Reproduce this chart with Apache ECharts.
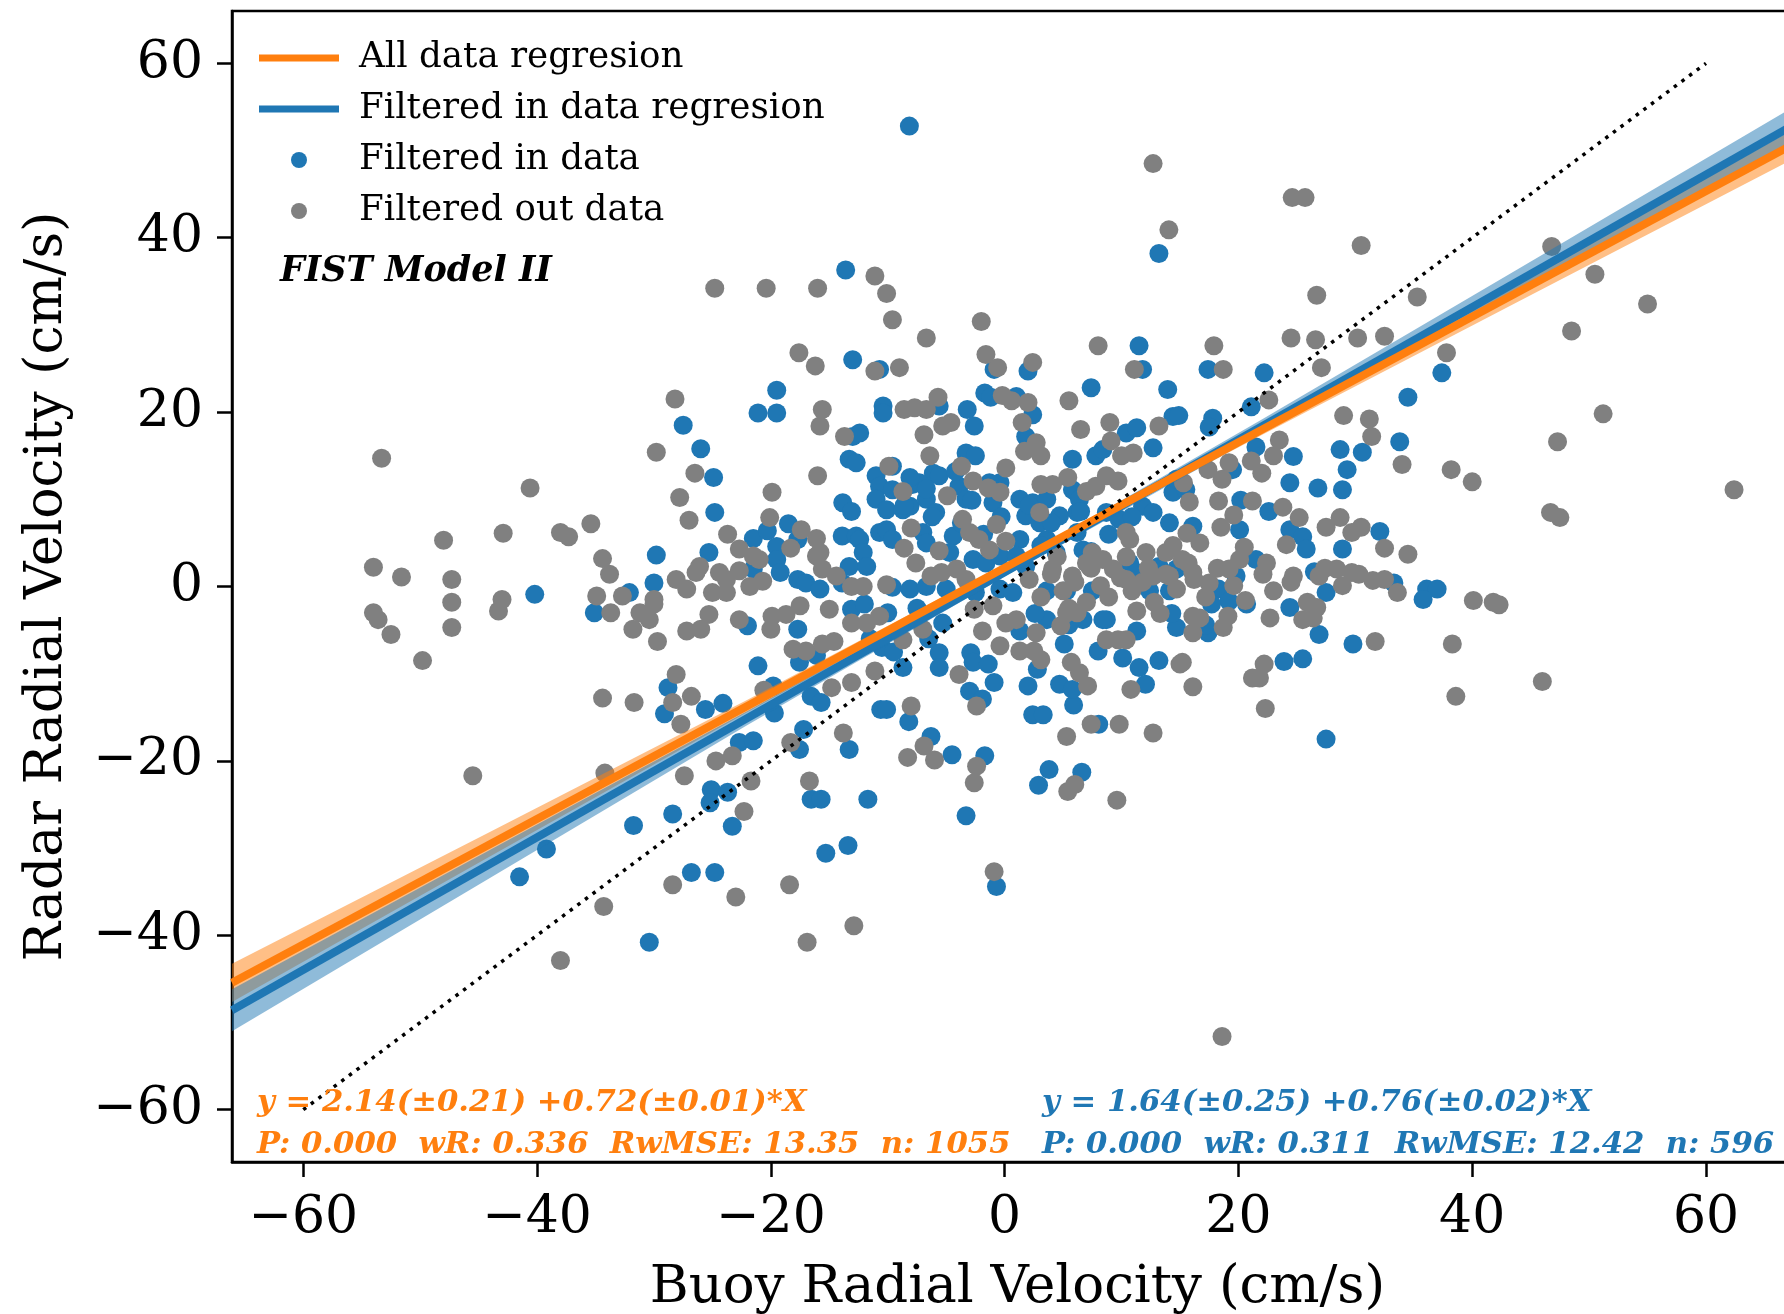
<!DOCTYPE html>
<html><head><meta charset="utf-8">
<script src="https://cdn.jsdelivr.net/npm/echarts@6/dist/echarts.min.js"></script>
<style>html,body{margin:0;padding:0;background:#fff}#c{width:1784px;height:1314px}</style>
</head><body><div id="c"></div>
<script>
// ---------------- DATA ----------------
const xTicks = [-60, -40, -20, 0, 20, 40, 60];
const yTicks = [-60, -40, -20, 0, 20, 40, 60];
const xRange = [-66.1, 68.3];
const yRange = [-66, 66];

const allLine = [[-66.1, -45.45], [68.3, 51.32]];
const filtLine = [[-66.1, -48.6], [68.3, 53.55]];
const oneToOne = [[-60, -60], [60, 60]];

// confidence bands
const bandX = [-66.1, -44, -22, 0, 22, 44, 68.3];
const allLo = [-47.65, -30.94, -14.4, 1.74, 17.38, 32.72, 49.62];
const allHi = [-43.25, -28.14, -13.0, 2.54, 18.58, 34.92, 53.02];
const filtLo = [-51.0, -33.4, -15.88, 1.14, 17.56, 33.68, 51.45];
const filtHi = [-46.2, -30.2, -14.28, 2.14, 19.16, 36.48, 55.65];

// Filtered in data (blue)
const filteredIn = [
[-40.2,-0.9],[-41.5,-33.3],[-30.4,-40.8],[-8.15,52.8],[13.2,38.2],[-13.6,36.3],
[-13.0,26.0],[-19.5,22.5],[-21.1,19.9],[-19.5,19.9],[-27.5,18.5],[-26.0,15.8],[-24.9,12.5],[-24.8,8.5],[-29.8,3.6],[-30.0,0.4],[-25.3,3.9],[-21.5,5.5],[-20.3,6.4],[-18.5,7.2],[-19.5,4.6],[-19.5,3.1],[-19.2,1.6],[-17.7,5.4],[-17.7,0.8],[-17.0,0.4],[-21.5,2.0],[-32.1,-0.7],[-13.0,17.2],[-13.3,14.6],[-12.7,14.2],[-13.85,9.6],[-13.1,8.6],[-13.9,5.8],[-12.7,5.8],[-13.3,2.3],[-13.9,0.4],[-15.8,-0.3],
[-35.1,-3.0],[-22.0,-4.5],[-17.7,-4.9],[-13.1,-2.6],[-21.1,-9.1],[-17.55,-8.7],[-16.1,-7.9],[-28.8,-11.6],[-29.1,-14.6],[-25.6,-14.1],[-24.1,-13.4],[-19.8,-11.4],[-19.7,-14.5],[-16.55,-12.6],[-15.7,-13.3],[-17.2,-16.4],[-22.7,-17.9],[-21.5,-17.7],[-17.55,-18.7],[-13.3,-18.7],[-25.1,-23.3],[-23.7,-23.6],[-25.2,-24.8],[-28.4,-26.1],[-31.75,-27.4],[-23.3,-27.5],[-16.55,-24.4],[-15.7,-24.4],[-39.2,-30.1],[-26.8,-32.8],[-24.8,-32.8],[-15.3,-30.6],[-13.4,-29.7],
[11.5,27.6],[11.8,24.9],[7.4,22.8],[13.95,22.6],[-0.9,24.9],[2.0,24.7],[-10.7,24.9],[-10.4,20.7],[-10.4,19.9],[-12.4,17.6],[-1.7,22.2],[-1.2,21.7],[-3.2,20.3],[-2.6,18.4],[1.0,21.8],[2.4,19.7],[1.8,17.2],[-5.6,20.7],[5.8,14.6],[7.8,15.0],[8.4,15.7],[10.4,17.6],[11.3,18.2],[12.7,15.9],[14.4,19.5],[-3.3,15.3],[-2.5,15.0],[-6.1,13.0],[-5.6,12.7],[-11.0,12.7],[-10.7,11.5],[-9.6,11.1],[-7.9,11.7],[-7.3,11.9],[-11.0,10.0],[-10.1,8.8],[-8.7,8.8],[-8.1,9.2],[-6.7,10.0],[-5.9,8.5],[-3.9,11.5],[-3.3,10.0],[-0.4,11.9],[-1.0,9.6],[1.3,10.0],[2.4,9.6],[3.6,10.0],[5.8,11.1],[6.4,10.0],[1.8,8.1],[3.0,7.3],[4.7,8.1],[6.2,8.5],[8.7,8.5],[9.8,7.7],[11.8,9.2],[12.7,8.5],[14.1,7.3],[14.4,10.8],[14.7,12.3],[-10.7,6.2],[-10.1,6.5],[-9.6,5.4],[-12.4,5.4],[-12.1,3.9],[-11.8,2.3],[-7.0,6.2],[-6.7,5.0],[-4.4,5.8],[-4.7,3.9],[-2.7,3.1],[-1.6,2.7],[-0.4,3.5],[1.3,5.4],[1.0,3.5],[1.8,2.3],[3.6,5.4],[4.4,3.9],[6.2,6.2],[6.7,4.2],[10.7,2.7],[11.3,1.6],[13.2,2.3],[14.7,2.0],[-9.6,-0.1],[-8.1,-0.3],[-6.7,0.0],[-5.0,-0.3],[-2.5,-0.7],[-0.4,-0.3],[0.7,-0.7],[3.6,-0.5],[5.3,-0.5],[7.5,-0.5],[12.4,-0.5],[14.1,-0.5],
[17.4,24.9],[22.2,24.5],[21.1,20.6],[17.8,19.3],[17.5,18.3],[14.9,19.6],[34.5,21.7],[37.4,24.5],[33.8,16.6],[28.7,15.7],[30.6,15.4],[29.3,13.4],[24.7,14.9],[24.4,11.9],[26.8,11.3],[28.9,11.1],[21.5,16.0],[19.5,13.4],[22.6,8.6],[24.4,6.5],[25.5,5.7],[25.8,4.3],[32.1,6.3],[28.9,4.3],[26.5,1.7],[33.3,0.4],[36.1,-0.3],[37.0,-0.3],[20.2,9.9],[20.1,6.5],[16.1,6.9],[21.5,3.1],[19.8,1.2],[18.3,-0.3],[27.5,-0.7],[15.5,11.1],
[-0.7,-34.4],[-3.3,-26.3],[-11.7,-24.4],[-10.6,-14.1],[-10.1,-14.1],[-8.2,-15.5],[-6.3,-17.2],[-4.5,-19.3],[-1.7,-19.4],[3.8,-21.0],[6.6,-21.3],[2.9,-22.8],[2.4,-14.7],[3.3,-14.7],[5.9,-13.6],[8.05,-15.8],[-0.9,-11.0],[-3.0,-12.0],[-1.9,-12.9],[-5.6,-7.6],[-5.6,-9.3],[-2.9,-7.6],[-2.7,-8.7],[-1.4,-8.9],[-8.7,-9.3],[2.0,-11.4],[2.8,-9.5],[4.7,-11.2],[5.8,-11.8],[5.1,-6.6],[8.0,-7.4],[10.1,-8.2],[11.5,-9.3],[12.05,-11.2],[13.2,-8.5],[-5.3,-4.2],[1.3,-5.1],[3.6,-3.8],[6.7,-3.8],[8.7,-3.8],[14.7,-4.7],
[-11.5,-6.0],[-10.5,-7.0],[-9.5,-7.5],[-12.0,-2.0],[-10.0,-3.0],[-7.5,-2.5],[-6.5,-6.0],
[17.4,-5.3],[23.9,-8.6],[25.5,-8.3],[26.9,-5.5],[29.8,-6.6],[27.5,-17.5],[24.4,-2.4],[20.7,-2.0],[19.2,-1.7],[17.7,-2.0],[35.8,-1.5],
[-9.6,13.8],[-8.1,12.5],[-6.7,11.2],[-4.2,13.2],[-2.8,9.9],[-1.3,11.9],[-8.6,9.3],[-6.2,8.0],[-3.7,7.3],[-1.8,6.0],[-0.3,8.0],
[2.1,9.3],[4.0,7.3],[6.5,8.6],[8.9,6.0],[10.9,8.0],[3.1,4.7],[7.4,4.0],
[2.6,-3.1],[5.5,-4.4],[8.4,-3.8],[11.3,-5.1],[14.3,-3.1],[17.2,-4.4]
];

// Filtered out data (gray)
const filteredOut = [
[-53.3,14.7],[-54.0,2.2],[-51.6,1.1],[-48.0,5.3],[-47.3,0.8],[-47.3,-1.8],[-47.3,-4.7],[-42.9,6.1],[-43.0,-1.5],[-43.3,-2.8],[-40.6,11.3],[-54.0,-3.0],[-53.6,-3.8],[-52.5,-5.5],[-49.8,-8.5],[-45.5,-21.7],
[-34.3,-36.7],[-38.0,-42.9],[-16.9,-40.8],[-12.9,-38.9],[18.6,-51.6],
[12.7,48.5],[24.6,44.6],[25.7,44.6],[14.05,40.9],[30.5,39.1],[-11.1,35.6],[-10.1,33.6],[-24.8,34.2],[-20.4,34.2],[-16.0,34.2],[26.7,33.4],[35.3,33.2],
[46.8,39.0],[50.5,35.8],[55.0,32.4],[48.5,29.3],[51.2,19.8],[47.3,16.6],[46.7,8.5],[47.5,7.9],[62.4,11.1],[42.3,-2.1],[46.0,-10.9],
[-17.6,26.8],[-16.2,25.3],[-28.2,21.5],[-29.8,15.4],[-26.5,13.0],[-27.8,10.2],[-27.0,7.6],[-35.4,7.2],[-38.0,6.2],[-37.3,5.7],[-34.4,3.2],[-33.8,1.4],[-34.9,-1.1],[-32.7,-1.1],[-30.0,-1.5],[-28.1,0.8],[-27.2,-0.3],[-26.1,2.3],[-26.4,1.6],[-24.4,1.6],[-23.8,0.8],[-22.7,1.8],[-23.7,6.0],[-22.7,4.3],[-21.5,3.5],[-21.0,3.1],[-20.1,7.9],[-19.9,10.8],[-25.0,-0.7],[-23.8,-0.7],[-21.8,0.0],[-20.7,0.6],[-18.3,4.4],[-17.4,6.5],[-16.1,5.5],[-16.1,3.5],[-15.8,3.9],[-15.6,2.0],[-14.4,1.2],[-13.1,0.0],[-15.6,20.3],[-15.8,18.4],[-13.7,17.2],[-16.0,12.7],
[-33.7,-3.0],[-31.8,-4.9],[-29.7,-6.3],[-27.2,-5.1],[-26.0,-4.9],[-25.3,-3.2],[-30.4,-3.8],[-31.2,-3.0],[-30.0,-2.0],[-22.7,-3.8],[-20.0,-4.9],[-19.9,-3.4],[-18.7,-3.2],[-17.5,-2.2],[-15.0,-2.6],[-13.1,-4.2],[-18.1,-7.2],[-17.0,-7.4],[-15.6,-6.6],[-14.6,-6.3],[-14.8,-11.6],[-13.1,-11.0],[-28.1,-10.1],[-28.4,-13.3],[-26.8,-12.6],[-27.7,-15.8],[-34.4,-12.8],[-31.7,-13.3],[-20.6,-11.9],[-34.2,-21.4],[-27.4,-21.7],[-24.7,-20.0],[-23.3,-19.4],[-18.3,-17.9],[-13.8,-16.8],[-16.7,-22.3],[-21.7,-22.3],[-22.3,-25.8],[-28.4,-34.2],[-18.4,-34.2],[-23.0,-35.6],
[-9.6,30.6],[-6.7,28.5],[-2.0,30.4],[-1.6,26.6],[-0.6,25.1],[2.4,25.7],[8.0,27.6],[11.1,24.9],[-11.1,24.7],[-9.0,25.1],[5.5,21.3],[6.5,18.0],[9.0,18.8],[13.2,18.4],[-5.7,21.7],[-8.6,20.3],[-7.7,20.5],[-6.7,20.3],[-5.3,18.4],[-4.6,18.8],[-6.9,17.4],[-6.4,15.0],[-0.2,21.9],[0.6,21.3],[2.0,21.1],[1.5,18.8],[1.7,15.5],[2.7,16.5],[3.1,15.0],[-9.9,13.8],[-3.7,13.8],[0.1,13.6],[-8.7,10.9],[-4.9,10.4],[-2.7,12.1],[-1.4,11.3],[-0.4,10.8],[3.1,11.7],[4.1,11.7],[5.4,12.5],[3.0,8.5],[7.0,10.9],[7.8,11.5],[8.7,12.7],[9.7,12.1],[10.0,15.0],[11.0,15.3],[9.1,16.7],[-8.0,6.7],[-8.6,4.4],[-5.6,4.1],[-3.6,7.7],[-3.0,6.2],[-2.2,5.4],[-1.3,4.2],[-0.7,7.1],[0.1,5.2],[-7.6,2.7],[-6.3,1.2],[-5.4,1.6],[-4.1,2.0],[-3.3,0.8],[-12.1,0.0],[-10.1,0.2],[7.5,3.9],[8.4,3.1],[10.4,6.2],[10.7,5.4],[12.1,3.9],[13.8,3.9],[14.4,4.7],[4.1,2.0],[5.8,1.2],[7.3,2.2],[9.3,2.0],[10.4,0.8],[12.7,1.2],[14.1,1.2],
[17.9,27.6],[18.7,24.9],[24.5,28.5],[26.6,28.3],[27.1,25.1],[30.2,28.5],[32.5,28.7],[37.8,26.8],
[22.6,21.4],[29.0,19.6],[31.2,19.2],[31.4,17.2],[34.0,14.0],[38.2,13.4],[40.0,12.0],[23.5,16.8],[23.0,15.0],[21.1,14.4],[22.0,13.0],[19.2,14.2],[17.4,13.4],[18.6,12.3],[15.3,11.9],[18.3,9.8],[21.2,9.8],[19.6,8.2],[23.8,9.1],[25.2,7.9],[27.5,6.8],[28.7,7.9],[29.7,6.2],[30.5,6.8],[32.5,4.4],[34.5,3.7],[18.5,6.8],[15.8,9.7],[15.2,3.1],[16.1,1.6],[17.5,0.4],[19.2,2.0],[20.1,3.1],[22.4,2.7],[24.7,1.2],[26.9,1.2],[28.4,2.0],[29.7,1.6],[31.5,0.7],[33.6,-0.7],[40.1,-1.6],[41.8,-1.8],[15.6,6.1],[16.7,5.0],[20.5,4.5],[24.1,4.8],[32.5,0.8],
[-11.1,-9.7],[-8.0,-13.7],[-3.9,-10.1],[-2.4,-13.7],[-6.9,-18.3],[-6.0,-19.9],[-8.3,-19.6],[-2.4,-20.6],[-2.6,-22.5],[-0.9,-32.7],[-0.4,-6.8],[1.3,-7.4],[2.7,-5.3],[2.5,-7.4],[3.1,-8.4],[4.8,-4.5],[5.7,-8.7],[6.4,-9.9],[7.1,-11.4],[5.3,-17.2],[7.4,-15.8],[9.8,-15.8],[12.7,-16.8],[10.8,-11.8],[5.4,-23.5],[6.0,-22.7],[9.6,-24.5],[8.7,-6.1],[9.7,-6.1],[10.4,-6.1],[11.3,-2.8],[15.0,-8.9],[-1.9,-5.1],[0.1,-4.2],[1.0,-3.8],[-2.6,-2.6],[-1.0,-2.2],[5.3,-3.0],[6.2,-3.0],[-11.8,-4.2],[-10.7,-3.4],[-7.0,-4.9],[-8.7,-6.1],
[16.1,-3.4],[16.7,-3.6],[16.1,-5.3],[19.1,-3.4],[18.7,-4.7],[15.2,-8.7],[16.1,-11.5],[22.2,-8.9],[21.2,-10.5],[21.8,-10.5],[22.3,-14.0],[22.7,-3.6],[25.5,-3.8],[26.4,-3.6],[26.7,-2.4],[31.7,-6.3],[38.3,-6.6],[38.6,-12.6],
[2.1,0.8],[3.1,-1.2],[4.0,1.4],[5.0,-0.5],[6.0,0.5],[7.0,-1.8],[7.4,2.1],[8.2,0.1],[8.9,-1.2],[9.9,1.0],[10.9,-0.5],[11.8,0.5],[12.8,-1.8],[13.8,1.4],[14.7,-0.3],[16.2,0.8],[17.2,-1.2],[18.2,2.1],[19.6,0.1],[20.6,-1.6],[22.1,1.4],[23.0,-0.5],[24.5,0.5],[25.9,-1.8],[27.4,2.1],[28.9,0.1],[30.3,1.4],
[4.5,3.4],[7.0,2.7],[10.4,3.4],[12.3,2.1],[5.5,-2.5],[13.3,-3.1],[15.7,2.7]
];

const legendNames = ['All data regresion', 'Filtered in data regresion', 'Filtered in data', 'Filtered out data'];
const annotation = 'FIST Model II';
const statsAll = ['y = 2.14(\u00b10.21) +0.72(\u00b10.01)*X', 'P: 0.000  wR: 0.336  RwMSE: 13.35  n: 1055'];
const statsFilt = ['y = 1.64(\u00b10.25) +0.76(\u00b10.02)*X', 'P: 0.000  wR: 0.311  RwMSE: 12.42  n: 596'];

// ---------------- CHART ----------------
const ORANGE = '#ff7f0e', BLUE = '#1f77b4', GRAY = '#808080';
const FONT = '"DejaVu Serif", serif';
const fmt = v => (v < 0 ? '\u2212' + Math.abs(v) : String(v));
const LINE_ICON = 'path://M0,0H80V7H0Z';

function band(lo, hi, color, z) {
  return {
    type: 'custom', z: z, silent: true, clip: true, data: [[0, 0]],
    renderItem: function (params, api) {
      const pts = [];
      for (let i = 0; i < bandX.length; i++) pts.push(api.coord([bandX[i], hi[i]]));
      for (let i = bandX.length - 1; i >= 0; i--) pts.push(api.coord([bandX[i], lo[i]]));
      return { type: 'polygon', shape: { points: pts }, style: { fill: color } };
    }
  };
}

const chart = echarts.init(document.getElementById('c'), null, { renderer: 'canvas' });
chart.setOption({
  animation: false,
  backgroundColor: '#fff',
  grid: { left: 232, top: 11, width: 1571, height: 1151, show: true, borderColor: '#000', borderWidth: 2.5, outerBoundsMode: 'none', containLabel: false },
  xAxis: {
    type: 'value', min: xRange[0], max: xRange[1],
    splitLine: { show: false },
    axisLine: { show: true, onZero: false, lineStyle: { color: '#000', width: 2.5 } },
    axisTick: { show: true, customValues: xTicks, length: 15, lineStyle: { color: '#000', width: 2.5 } },
    axisLabel: { customValues: xTicks, formatter: fmt, fontSize: 52, color: '#000', fontFamily: FONT, margin: 30 },
    name: 'Buoy Radial Velocity (cm/s)', nameLocation: 'middle', nameGap: 100, nameMoveOverlap: false,
    nameTextStyle: { fontSize: 53, color: '#000', fontFamily: FONT }
  },
  yAxis: {
    type: 'value', min: yRange[0], max: yRange[1],
    splitLine: { show: false },
    axisLine: { show: true, onZero: false, lineStyle: { color: '#000', width: 2.5 } },
    axisTick: { show: true, customValues: yTicks, length: 15, lineStyle: { color: '#000', width: 2.5 } },
    axisLabel: { customValues: yTicks, formatter: fmt, fontSize: 52, color: '#000', fontFamily: FONT, margin: 29 },
    name: 'Radar Radial Velocity (cm/s)', nameLocation: 'middle', nameGap: 159, nameMoveOverlap: false,
    nameTextStyle: { fontSize: 52, color: '#000', fontFamily: FONT }
  },
  legend: {
    data: [
      { name: legendNames[0], icon: LINE_ICON },
      { name: legendNames[1], icon: LINE_ICON },
      { name: legendNames[2], icon: 'circle' },
      { name: legendNames[3], icon: 'circle' }
    ],
    orient: 'vertical', left: 259, top: 40, padding: 0, symbolKeepAspect: true,
    itemWidth: 80, itemHeight: 16, itemGap: 15, selectedMode: false,
    textStyle: { fontSize: 35.7, lineHeight: 36, color: '#000', fontFamily: FONT, padding: [0, 0, 0, 15] }
  },
  series: [
    { name: legendNames[2], type: 'scatter', z: 2, data: filteredIn, symbol: 'circle', symbolSize: 19, itemStyle: { color: BLUE, opacity: 1 }, silent: true },
    { name: legendNames[3], type: 'scatter', z: 3, data: filteredOut, symbol: 'circle', symbolSize: 19, itemStyle: { color: GRAY, opacity: 1 }, silent: true },
    band(allLo, allHi, 'rgba(255,127,14,0.5)', 4),
    band(filtLo, filtHi, 'rgba(31,119,180,0.5)', 5),
    { name: legendNames[1], type: 'line', z: 6, data: filtLine, symbol: 'none', lineStyle: { color: BLUE, width: 8 }, itemStyle: { color: BLUE }, silent: true },
    { name: legendNames[0], type: 'line', z: 7, data: allLine, symbol: 'none', lineStyle: { color: ORANGE, width: 8 }, itemStyle: { color: ORANGE }, silent: true },
    { type: 'line', z: 8, data: oneToOne, symbol: 'none', lineStyle: { color: '#000', width: 3.5, type: [3.5, 6] }, silent: true }
  ],
  graphic: [
    { type: 'text', x: 280, y: 272, z: 100, style: { text: annotation, font: 'italic bold 35px ' + FONT, fill: '#000', verticalAlign: 'middle' } },
    { type: 'text', x: 257, y: 1103, z: 100, style: { text: statsAll[0], font: 'italic bold 30.7px ' + FONT, fill: ORANGE, verticalAlign: 'middle' } },
    { type: 'text', x: 257, y: 1145, z: 100, style: { text: statsAll[1], font: 'italic bold 30.7px ' + FONT, fill: ORANGE, verticalAlign: 'middle' } },
    { type: 'text', x: 1042, y: 1103, z: 100, style: { text: statsFilt[0], font: 'italic bold 30.7px ' + FONT, fill: BLUE, verticalAlign: 'middle' } },
    { type: 'text', x: 1042, y: 1145, z: 100, style: { text: statsFilt[1], font: 'italic bold 30.7px ' + FONT, fill: BLUE, verticalAlign: 'middle' } }
  ]
});
</script></body></html>
